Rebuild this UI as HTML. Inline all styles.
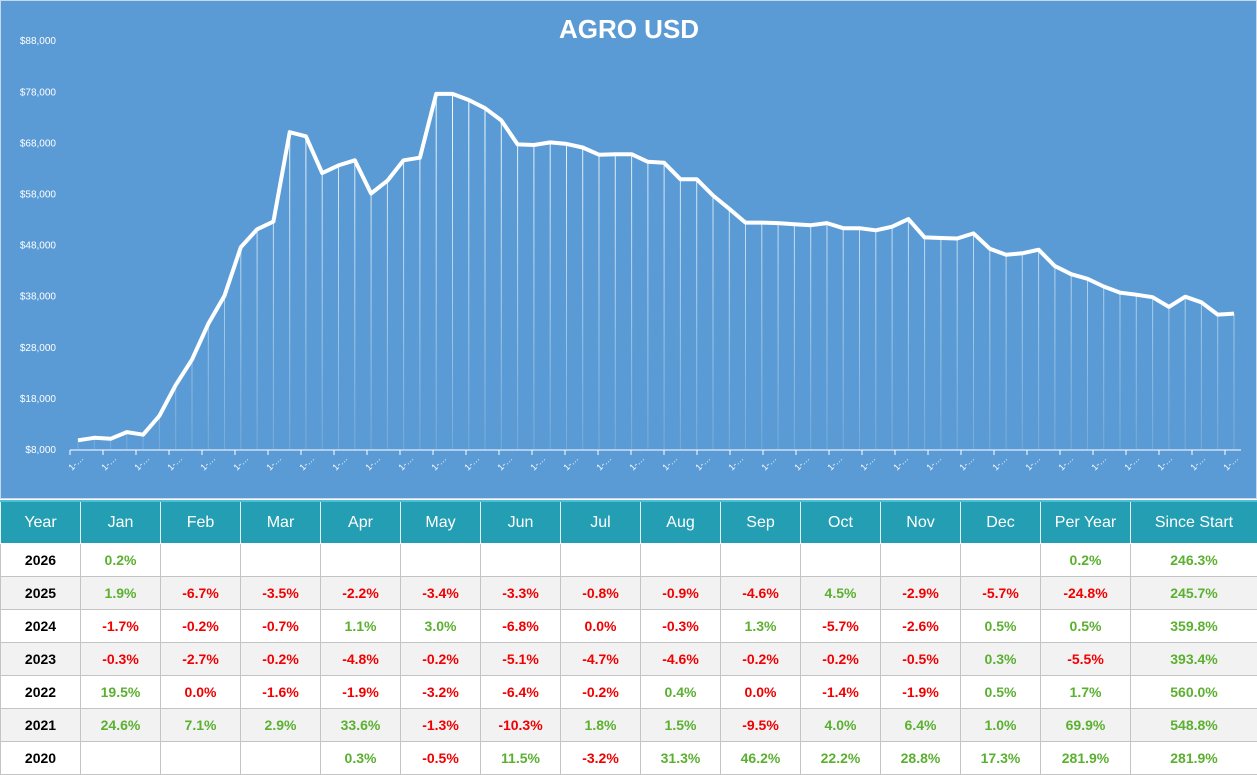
<!DOCTYPE html>
<html><head><meta charset="utf-8"><style>
body{margin:0;width:1257px;height:774px;overflow:hidden;background:#fff;font-family:"Liberation Sans",Arial,sans-serif}
#chart{position:absolute;left:0;top:0;width:1257px;height:499px;background:#5B9BD5;box-sizing:border-box;border:1px solid #c8d8ea}
table{position:absolute;left:0;top:500px;border-collapse:collapse;table-layout:fixed;width:1257px}
td,th{border:1px solid #c4c4c4;text-align:center;font-size:14px;font-weight:bold;padding:0;height:32px}
th{background:#239EB3;color:#fff;font-weight:normal;font-size:16px;height:41px;border-color:#fff #e8f4f8;border-top:2px solid #4dc0d8}
tr:nth-child(odd) td{background:#f2f2f2}
.g{color:#5BB030}.r{color:#f00000}.y{color:#000}
</style></head><body>
<div id="chart"><svg width="1257" height="499" id="s">
<defs><linearGradient id="lg" gradientUnits="userSpaceOnUse" x1="0" y1="80" x2="0" y2="448"><stop offset="0" stop-color="#fff" stop-opacity="1"/><stop offset="1" stop-color="#fff" stop-opacity="0.15"/></linearGradient></defs>
<text x="628" y="37" fill="#fff" font-size="26" font-weight="bold" text-anchor="middle" font-family="Liberation Sans, sans-serif">AGRO USD</text>
<g id="g"></g>
</svg></div>
<table>
<colgroup><col style="width:80px"><col span="12" style="width:80px"><col style="width:90px"><col style="width:127px"></colgroup>
<tr><th>Year</th><th>Jan</th><th>Feb</th><th>Mar</th><th>Apr</th><th>May</th><th>Jun</th><th>Jul</th><th>Aug</th><th>Sep</th><th>Oct</th><th>Nov</th><th>Dec</th><th>Per Year</th><th>Since Start</th></tr>
<tr style="background:#fff"><td class="y">2026</td><td class="g">0.2%</td><td></td><td></td><td></td><td></td><td></td><td></td><td></td><td></td><td></td><td></td><td></td><td class="g">0.2%</td><td class="g">246.3%</td></tr>
<tr><td class="y">2025</td><td class="g">1.9%</td><td class="r">-6.7%</td><td class="r">-3.5%</td><td class="r">-2.2%</td><td class="r">-3.4%</td><td class="r">-3.3%</td><td class="r">-0.8%</td><td class="r">-0.9%</td><td class="r">-4.6%</td><td class="g">4.5%</td><td class="r">-2.9%</td><td class="r">-5.7%</td><td class="r">-24.8%</td><td class="g">245.7%</td></tr>
<tr><td class="y">2024</td><td class="r">-1.7%</td><td class="r">-0.2%</td><td class="r">-0.7%</td><td class="g">1.1%</td><td class="g">3.0%</td><td class="r">-6.8%</td><td class="r">0.0%</td><td class="r">-0.3%</td><td class="g">1.3%</td><td class="r">-5.7%</td><td class="r">-2.6%</td><td class="g">0.5%</td><td class="g">0.5%</td><td class="g">359.8%</td></tr>
<tr><td class="y">2023</td><td class="r">-0.3%</td><td class="r">-2.7%</td><td class="r">-0.2%</td><td class="r">-4.8%</td><td class="r">-0.2%</td><td class="r">-5.1%</td><td class="r">-4.7%</td><td class="r">-4.6%</td><td class="r">-0.2%</td><td class="r">-0.2%</td><td class="r">-0.5%</td><td class="g">0.3%</td><td class="r">-5.5%</td><td class="g">393.4%</td></tr>
<tr><td class="y">2022</td><td class="g">19.5%</td><td class="r">0.0%</td><td class="r">-1.6%</td><td class="r">-1.9%</td><td class="r">-3.2%</td><td class="r">-6.4%</td><td class="r">-0.2%</td><td class="g">0.4%</td><td class="r">0.0%</td><td class="r">-1.4%</td><td class="r">-1.9%</td><td class="g">0.5%</td><td class="g">1.7%</td><td class="g">560.0%</td></tr>
<tr><td class="y">2021</td><td class="g">24.6%</td><td class="g">7.1%</td><td class="g">2.9%</td><td class="g">33.6%</td><td class="r">-1.3%</td><td class="r">-10.3%</td><td class="g">1.8%</td><td class="g">1.5%</td><td class="r">-9.5%</td><td class="g">4.0%</td><td class="g">6.4%</td><td class="g">1.0%</td><td class="g">69.9%</td><td class="g">548.8%</td></tr>
<tr><td class="y">2020</td><td></td><td></td><td></td><td class="g">0.3%</td><td class="r">-0.5%</td><td class="g">11.5%</td><td class="r">-3.2%</td><td class="g">31.3%</td><td class="g">46.2%</td><td class="g">22.2%</td><td class="g">28.8%</td><td class="g">17.3%</td><td class="g">281.9%</td><td class="g">281.9%</td></tr>
</table>
<script>
var v=[9700,10200,10000,11300,10800,14500,20500,25500,32500,38000,47500,51000,52500,70000,69200,62000,63500,64500,58000,60500,64500,65000,77500,77500,76300,74700,72300,67600,67500,68000,67700,67000,65600,65700,65700,64200,64000,60800,60800,57600,55000,52300,52300,52200,52000,51800,52200,51200,51200,50800,51500,53000,49400,49300,49200,50200,47200,46000,46300,47000,43800,42200,41300,39800,38600,38200,37700,35800,37800,36700,34300,34500];
var n=v.length,x0=77,x1=1233,Y=function(a){return 448-(a-8000)*0.00511};
var h='',p='';
for(var i=0;i<n;i++){var x=x0+i*(x1-x0)/(n-1),y=Y(v[i]);h+='<line x1="'+x.toFixed(1)+'" y1="'+y.toFixed(1)+'" x2="'+x.toFixed(1)+'" y2="448" stroke="url(#lg)" stroke-width="1"/>';p+=(i?'L':'M')+x.toFixed(1)+' '+y.toFixed(1);}
h+='<path d="'+p+'" fill="none" stroke="#fff" stroke-width="4" stroke-linejoin="round"/>';
for(var k=0;k<=8;k++){var yy=448-k*51.1;h+='<text x="55" y="'+(yy+4)+'" fill="#fff" font-size="10" text-anchor="end" font-family="Liberation Sans, sans-serif">$'+(8+k*10)+',000</text>';}
h+='<line x1="69" y1="449" x2="1240" y2="449" stroke="#fff" stroke-width="1"/>';
for(var t=69;t<1245;t+=33){h+='<line x1="'+t+'" y1="449" x2="'+t+'" y2="454" stroke="#fff"/>';h+='<text transform="translate('+(t+2)+',470) rotate(-45)" fill="#fff" font-size="9" font-family="Liberation Sans, sans-serif">1-\u2026</text>';}
document.getElementById('g').innerHTML=h;
</script>
</body></html>
